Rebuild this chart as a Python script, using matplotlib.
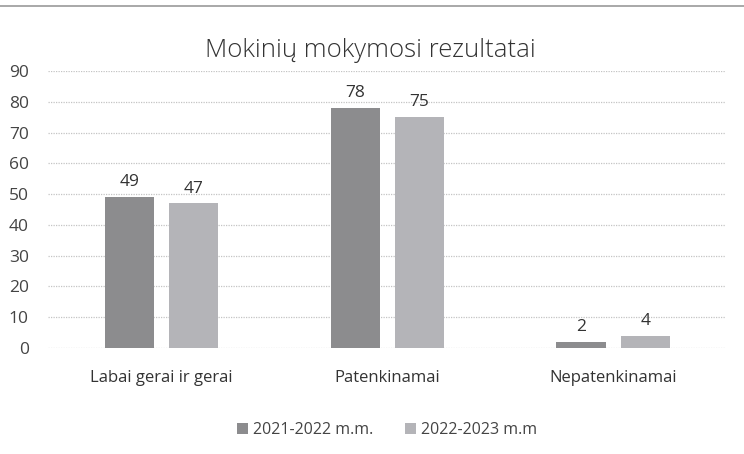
import numpy as np
import matplotlib.pyplot as plt
from matplotlib.lines import Line2D

# chart data
categories = ["Labai gerai ir gerai", "Patenkinamai", "Nepatenkinamai"]
series_names = ["2021-2022 m.m.", "2022-2023 m.m"]
values_2021 = [49, 78, 2]
values_2022 = [47, 75, 4]

plt.rcParams['font.family'] = ['Open Sans', 'DejaVu Sans']

fig = plt.figure(figsize=(7.44, 4.54), dpi=100)
ax = fig.add_axes([0.065, 0.2335, 0.911, 0.6101])

x = np.arange(len(categories))
w = 0.218
off = 0.142
b1 = ax.bar(x - off, values_2021, w, color="#8c8c8e", label=series_names[0])
b2 = ax.bar(x + off, values_2022, w, color="#b4b4b8", label=series_names[1])

for bars in (b1, b2):
    for r in bars:
        ax.text(r.get_x() + r.get_width() / 2, r.get_height() + 2.2,
                "%d" % r.get_height(), ha="center", va="bottom",
                fontsize=12.5, color="#333333")

ax.set_xlim(-0.5, 2.5)
ax.set_ylim(0, 90)
ax.set_yticks(range(0, 91, 10))
ax.yaxis.grid(True, color="#c4c4c4", linestyle=(0, (1, 1)), linewidth=0.9)
ax.set_axisbelow(True)
for s in ax.spines.values():
    s.set_visible(False)
ax.set_xticks(x)
ax.set_xticklabels(categories)
ax.tick_params(axis="x", length=0, pad=16, labelsize=12, labelcolor="#333333")
ax.tick_params(axis="y", length=0, pad=14, labelsize=12.5, labelcolor="#444444")

t = ax.set_title("Mokinių mokymosi rezultatai", fontsize=18.5, color="#333333",
                 pad=10, fontweight="light")
t.set_x(0.475)

fig.legend(handles=[b1, b2], labels=series_names, loc="center",
           bbox_to_anchor=(0.52, 0.053), ncol=2, frameon=False,
           fontsize=11.5, handlelength=0.7, handleheight=0.7,
           handletextpad=0.3, columnspacing=2.0, labelcolor="#444444")

# scanned frame line at top
fig.add_artist(Line2D([0.0, 1.0], [0.987, 0.987], color="#999999",
                      linewidth=1.2, transform=fig.transFigure))

fig.savefig("out.png", dpi=100, facecolor="white")
